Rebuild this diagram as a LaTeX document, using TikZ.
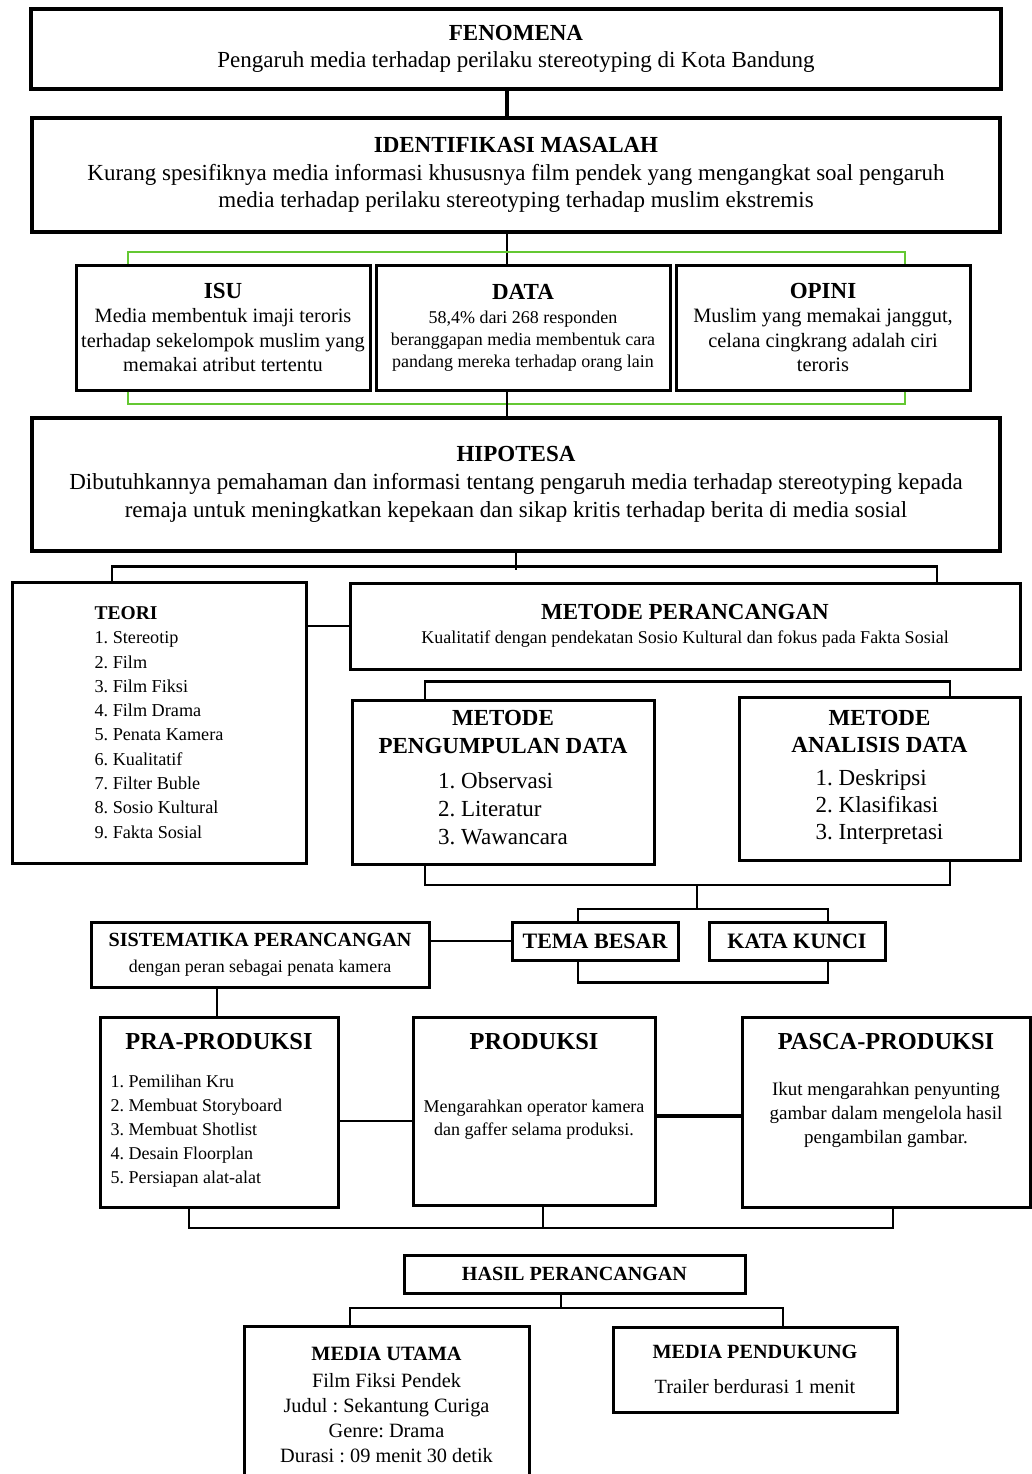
\documentclass[tikz,border=0pt]{standalone}
\usepackage{fontspec}
\setmainfont{Liberation Serif}
\usepackage{tikz}
\usetikzlibrary{positioning}
\definecolor{linkgreen}{RGB}{100,200,50}
\newcommand{\fsz}[2]{\fontsize{#1pt}{#2pt}\selectfont}
\frenchspacing

\begin{document}
\begin{tikzpicture}[
  x=1pt, y=-1pt,
  box/.style={draw, line width=3pt, inner sep=0pt, align=center},
  ttl/.style={font=\bfseries\fsz{24.4}{28}, inner sep=0pt},
  txt/.style={inner sep=0pt, align=center},
  link/.style={line width=2.5pt},
  glink/.style={line width=2pt, draw=linkgreen}
]
\useasboundingbox (0,0) rectangle (1032,1474);

% Level 0: Fenomena
\node[box, line width=4pt, minimum width=970pt, minimum height=80pt, font=\fsz{23}{27}] (fenomena) at (516,49)
  {\textbf{FENOMENA}\\Pengaruh media terhadap perilaku stereotyping di Kota Bandung};

% Level 1: Identifikasi masalah
\node[box, line width=4pt, minimum width=968pt, minimum height=114pt, font=\fsz{23}{27.5}] (identifikasi) at (516,175)
  {\textbf{IDENTIFIKASI MASALAH}\\Kurang spesifiknya media informasi khususnya film pendek yang mengangkat soal pengaruh\\media terhadap perilaku stereotyping terhadap muslim ekstremis};

% Level 2: Isu, data, opini
\node[box, minimum width=294pt, minimum height=125pt, font=\fsz{20.3}{24.5}] (isu) at (223,327.5)
  {{\fsz{23}{24.5}\bfseries ISU}\\Media membentuk imaji teroris\\terhadap sekelompok muslim yang\\memakai atribut tertentu};
\node[box, minimum width=294pt, minimum height=125pt, font=\fsz{18}{22}] (data) at (523,327.5)
  {{\fsz{23}{22}\bfseries DATA}\\[2pt]58,4\% dari 268 responden\\beranggapan media membentuk cara\\pandang mereka terhadap orang lain};
\node[box, minimum width=294pt, minimum height=125pt, font=\fsz{20.4}{24.5}] (opini) at (823,327.5)
  {{\fsz{23}{24.5}\bfseries OPINI}\\Muslim yang memakai janggut,\\celana cingkrang adalah ciri\\teroris};

% Level 3: Hipotesa
\node[box, line width=4pt, minimum width=968pt, minimum height=133pt, font=\fsz{23}{28}] (hipotesa) at (516,484.5)
  {\textbf{HIPOTESA}\\Dibutuhkannya pemahaman dan informasi tentang pengaruh media terhadap stereotyping kepada\\remaja untuk meningkatkan kepekaan dan sikap kritis terhadap berita di media sosial};

% Level 4: Teori dan metode
\node[box, align=left, minimum width=294pt, minimum height=281pt, font=\fsz{18.2}{24.3}] (teori) at (159,722.5)
  {{\fsz{19.5}{24.3}\bfseries TEORI}\\1. Stereotip\\2. Film\\3. Film Fiksi\\4. Film Drama\\5. Penata Kamera\\6. Kualitatif\\7. Filter Buble\\8. Sosio Kultural\\9. Fakta Sosial};
\node[box, minimum width=670pt, minimum height=86pt, font=\fsz{18}{24}] (metode) at (685,626)
  {{\fsz{23}{24}\bfseries METODE PERANCANGAN}\\Kualitatif dengan pendekatan Sosio Kultural dan fokus pada Fakta Sosial};
\node[box, minimum width=302pt, minimum height=164pt, font=\fsz{23}{28}] (kumpul) at (503,782)
  {\textbf{METODE}\\\textbf{PENGUMPULAN DATA}\\[7pt]\begin{tabular}[t]{@{}l@{}}1. Observasi\\2. Literatur\\3. Wawancara\end{tabular}};
\node[box, minimum width=281pt, minimum height=163pt, font=\fsz{23}{27}] (analisis) at (879.5,778.5)
  {\textbf{METODE}\\\textbf{ANALISIS DATA}\\[6pt]\begin{tabular}[t]{@{}l@{}}1. Deskripsi\\2. Klasifikasi\\3. Interpretasi\end{tabular}};

% Level 5: Sistematika
\node[box, minimum width=338pt, minimum height=65pt, font=\fsz{17.9}{26}] (sistematika) at (260,954.5)
  {{\fsz{20.1}{26}\bfseries SISTEMATIKA PERANCANGAN}\\dengan peran sebagai penata kamera};
\node[box, minimum width=166pt, minimum height=38pt, font=\bfseries\fsz{22}{26}] (tema) at (595,941) {TEMA BESAR};
\node[box, minimum width=176pt, minimum height=38pt, font=\bfseries\fsz{22}{26}] (kunci) at (797,941) {KATA KUNCI};

% Level 6: Produksi
\node[box, minimum width=238pt, minimum height=190pt] (pra) at (219,1112) {};
\node[ttl, below=18pt of pra.north] (pra-t) {PRA-PRODUKSI};
\node[txt, align=left, font=\fsz{18}{24}, below right=59pt and 12pt of pra.north west] (pra-l)
  {1. Pemilihan Kru\\2. Membuat Storyboard\\3. Membuat Shotlist\\4. Desain Floorplan\\5. Persiapan alat-alat};
\node[box, minimum width=242pt, minimum height=188pt] (produksi) at (534,1111) {};
\node[ttl, below=18pt of produksi.north] (produksi-t) {PRODUKSI};
\node[txt, font=\fsz{18}{23}, below=50pt of produksi-t] (produksi-l)
  {Mengarahkan operator kamera\\dan gaffer selama produksi.};
\node[box, minimum width=288pt, minimum height=190pt] (pasca) at (886,1112) {};
\node[ttl, below=18pt of pasca.north] (pasca-t) {PASCA-PRODUKSI};
\node[txt, font=\fsz{19}{24}, below=32pt of pasca-t] (pasca-l)
  {Ikut mengarahkan penyunting\\gambar dalam mengelola hasil\\pengambilan gambar.};

% Level 7: Hasil
\node[box, minimum width=341pt, minimum height=38pt, font=\bfseries\fsz{20.1}{24}] (hasil) at (574.5,1274) {HASIL PERANCANGAN};
\node[box, minimum width=285pt, minimum height=157pt, font=\fsz{20.3}{25}] (utama) at (386.5,1404.5)
  {\textbf{MEDIA UTAMA}\\[2pt]Film Fiksi Pendek\\Judul : Sekantung Curiga\\Genre: Drama\\Durasi : 09 menit 30 detik};
\node[box, minimum width=284pt, minimum height=85pt, font=\fsz{20.2}{25}] (pendukung) at (755,1369.5)
  {\textbf{MEDIA PENDUKUNG}\\[10pt]Trailer berdurasi 1 menit};

% Joints
\coordinate (j1) at (697,885);
\coordinate (j2) at (697,909);
\coordinate (p1) at (543,1228);
\coordinate (r1) at (561,1308);

% Connectors
\draw[link, line width=4pt] ([xshift=-9pt]fenomena.south) -- ([xshift=-9pt]identifikasi.north);
\draw[link] ([xshift=-9pt]identifikasi.south) -- ([xshift=-16pt]data.north);
\draw[glink] ([xshift=-95pt]isu.north) -- ++(0,-12) -| ([xshift=82pt]opini.north);
\draw[glink] ([xshift=-95pt]isu.south) -- ++(0,12) -| ([xshift=82pt]opini.south);
\draw[link] ([xshift=-16pt]data.south) -- ([xshift=-9pt]hipotesa.north);
\draw[link] (hipotesa.south) -- ++(0,17);
\draw[link] ([xshift=-47pt]teori.north) -- ++(0,-14) -| ([xshift=252pt]metode.north);
\draw[link] (teori.east |- metode.west) -- (metode.west);
\draw[link] ([xshift=-78pt]kumpul.north) -- ++(0,-17) -| ([xshift=70.5pt]analisis.north);
\draw[link] ([xshift=-78pt]kumpul.south) |- (j1) -| ([xshift=70.5pt]analisis.south);
\draw[link] (j1) -- (j2);
\draw[link] ([xshift=-17pt]tema.north) |- (j2) -| ([xshift=31pt]kunci.north);
\draw[link] ([xshift=-17pt]tema.south) -- ++(0,21) -| ([xshift=31pt]kunci.south);
\draw[link] (tema.west -| sistematika.east) -- (tema.west);
\draw[link] ([xshift=-43pt]sistematika.south) -- ([xshift=-2pt]pra.north);
\draw[link] ([yshift=-9pt]pra.east) -- ([yshift=-9pt]pra.east -| produksi.west);
\draw[link, line width=4pt] ([yshift=-5pt]produksi.east) -- ([yshift=-5pt]produksi.east -| pasca.west);
\draw[link] ([xshift=-30pt]pra.south) |- (p1) -| ([xshift=7pt]pasca.south);
\draw[link] ([xshift=9pt]produksi.south) -- (p1);
\draw[link] ([xshift=-13.5pt]hasil.south) -- (r1);
\draw[link] ([xshift=-36.5pt]utama.north) |- (r1) -| ([xshift=28pt]pendukung.north);

\end{tikzpicture}
\end{document}
